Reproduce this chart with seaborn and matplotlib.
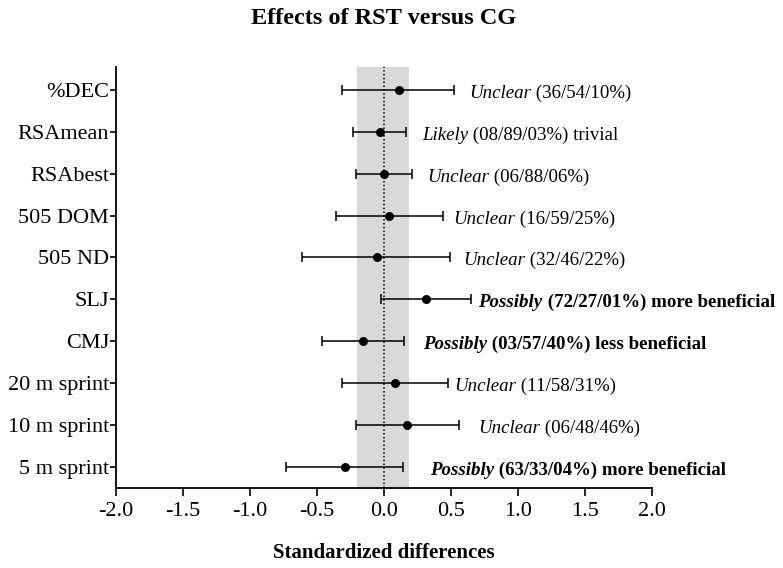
import numpy as np
import pandas as pd
import matplotlib
matplotlib.use("Agg")
import matplotlib.pyplot as plt
import seaborn as sns

# ---- data ----
labels = ["%DEC", "RSAmean", "RSAbest", "505 DOM", "505 ND", "SLJ", "CMJ",
          "20 m sprint", "10 m sprint", "5 m sprint"]
estimate = [0.11, -0.03, 0.00, 0.04, -0.055, 0.31, -0.155, 0.085, 0.17, -0.29]
ci_lower = [-0.31, -0.23, -0.21, -0.36, -0.61, -0.025, -0.46, -0.31, -0.21, -0.73]
ci_upper = [0.52, 0.165, 0.21, 0.44, 0.49, 0.65, 0.15, 0.48, 0.56, 0.145]
qualifier = ["Unclear", "Likely", "Unclear", "Unclear", "Unclear",
             "Possibly", "Possibly", "Unclear", "Unclear", "Possibly"]
inference = [" (36/54/10%)", " (08/89/03%) trivial", " (06/88/06%)",
             " (16/59/25%)", " (32/46/22%)", " (72/27/01%) more beneficial",
             " (03/57/40%) less beneficial", " (11/58/31%)", " (06/48/46%)",
             " (63/33/04%) more beneficial"]
is_bold = [False, False, False, False, False, True, True, False, False, True]
text_x = [0.637, 0.282, 0.32, 0.514, 0.589, 0.705, 0.29, 0.524, 0.70, 0.34]
trivial_band = (-0.2, 0.19)
x_ticks = [-2.0, -1.5, -1.0, -0.5, 0.0, 0.5, 1.0, 1.5, 2.0]

df = pd.DataFrame({"label": labels, "est": estimate, "lo": ci_lower,
                   "hi": ci_upper, "pos": np.arange(len(labels))})

sns.set_theme(style="ticks")
plt.rcParams["font.family"] = ["Liberation Serif", "DejaVu Serif"]
plt.rcParams["text.color"] = "black"
plt.rcParams["axes.labelcolor"] = "black"
plt.rcParams["xtick.color"] = "black"
plt.rcParams["ytick.color"] = "black"
plt.rcParams["axes.edgecolor"] = "black"

fig = plt.figure(figsize=(7.83, 5.68), dpi=100)
ax = fig.add_axes([116 / 783, 1 - 488 / 568, (652 - 116) / 783, (488 - 67) / 568])

ax.axvspan(trivial_band[0], trivial_band[1], color="#d9d9d9", zorder=0, lw=0)
ax.axvline(0, color="black", ls=(0, (1.0, 1.5)), lw=1.1, zorder=1)

ax.errorbar(df["est"], df["pos"],
            xerr=[df["est"] - df["lo"], df["hi"] - df["est"]],
            fmt="none", ecolor="black", elinewidth=1.1, capsize=3.6,
            capthick=1.1, zorder=2)
sns.scatterplot(data=df, x="est", y="pos", color="black", s=42,
                edgecolor="black", linewidth=0, zorder=3, ax=ax, legend=False)

ax.set_xlim(-2.0, 2.0)
ax.set_ylim(len(labels) - 0.49, -0.55)
ax.set_xticks(x_ticks)
ax.set_xticklabels([f"{v:.1f}" for v in x_ticks], fontsize=16)
ax.set_yticks(df["pos"])
ax.set_yticklabels(labels, fontsize=16)
ax.tick_params(axis="x", length=6, width=1.2, pad=4)
ax.tick_params(axis="y", length=4, width=1.2, pad=1)
for s in ["left", "bottom"]:
    ax.spines[s].set_linewidth(1.3)
sns.despine(ax=ax)

ax.set_ylabel("")
ax.set_xlabel("Standardized differences", fontsize=15, fontweight="bold",
              labelpad=16)

for i in range(len(labels)):
    w = "bold" if is_bold[i] else "normal"
    t1 = ax.text(text_x[i], df["pos"][i] + 0.19, qualifier[i], fontsize=13.6,
                 fontstyle="italic", fontweight=w, va="baseline", ha="left",
                 clip_on=False)
    ax.annotate(inference[i], xy=(1, 0), xycoords=t1, fontsize=13.6,
                fontweight=w, va="bottom", ha="left", annotation_clip=False)

fig.text(384 / 783, 1 - 19 / 568, "Effects of RST versus CG", fontsize=17.5,
         fontweight="bold", ha="center", va="center")

fig.savefig("out.png", dpi=100, facecolor="white")
